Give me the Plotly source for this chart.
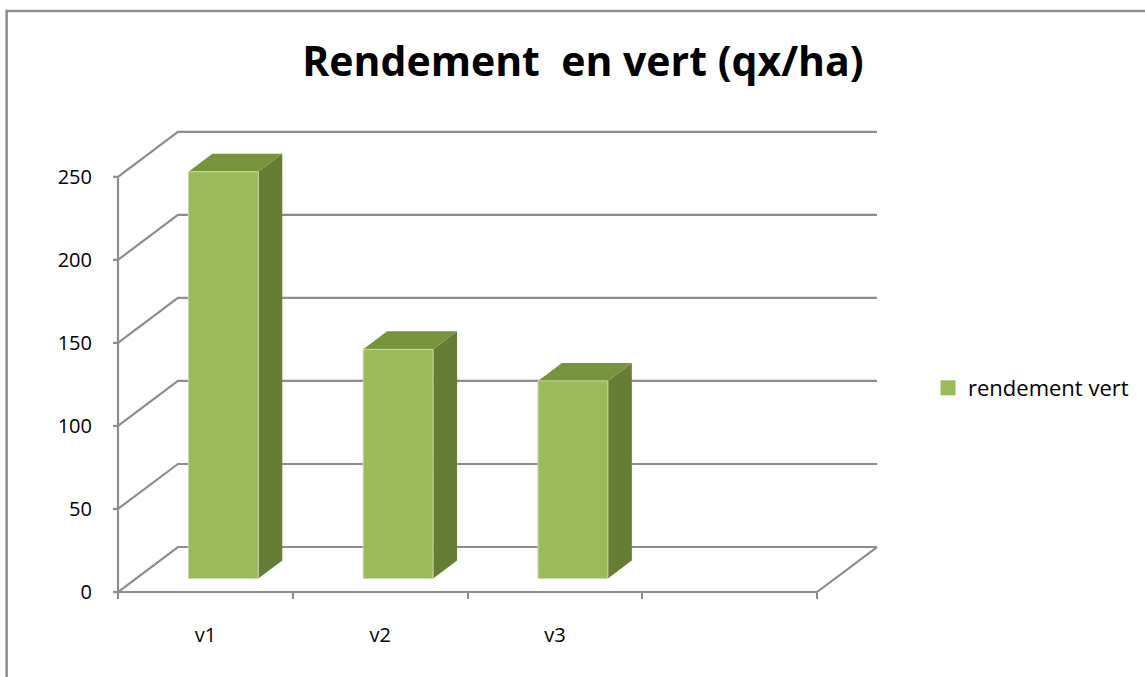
import plotly.graph_objects as go

# ---- data ----
categories = ["v1", "v2", "v3"]
values = [245, 138, 119]
series_name = "rendement vert"
y_ticks = [0, 50, 100, 150, 200, 250]
n_slots = 4  # category slots on the floor (4th empty)

# ---- geometry / style ----
W, H = 1145, 677
X0 = -5 / 175.0
X1 = 4.4
Y0, Y1 = -3, 280
L, R, B, T = 113, 257, 80, 127
plot_w = W - L - R
plot_h = H - T - B
ky = plot_h / (Y1 - Y0)            # px per value unit
DX = 60 / 175.0                      # depth offset in x units
DY = 45 / ky                         # depth offset in y units
GRID = "#8c8c8c"
FRONT = "#9BBB59"
TOP = "#77933C"
SIDE = "#657D35"
FONT = "Open Sans"

def proj(x, y, z):
    return x + z * DX, y + z * DY

fig = go.Figure()

def poly(pts, color, line_color=None, width=0):
    xs = [p[0] for p in pts] + [pts[0][0]]
    ys = [p[1] for p in pts] + [pts[0][1]]
    fig.add_trace(go.Scatter(x=xs, y=ys, mode="lines", fill="toself",
                             fillcolor=color,
                             line=dict(color=line_color or color, width=width),
                             hoverinfo="skip", showlegend=False))

def lines(xs, ys, color=GRID, width=2.2):
    fig.add_trace(go.Scatter(x=xs, y=ys, mode="lines",
                             line=dict(color=color, width=width),
                             hoverinfo="skip", showlegend=False))

# walls: gridlines (left wall diagonal + back wall horizontal)
gx, gy = [], []
for v in y_ticks:
    a = proj(0, v, 0)
    b = proj(0, v, 1)
    c = proj(n_slots, v, 1)
    gx += [a[0], b[0], c[0], None]
    gy += [a[1], b[1], c[1], None]
lines(gx, gy)
# floor right edge, front edge, front vertical axis
fr = proj(n_slots, 0, 0)
br = proj(n_slots, 0, 1)
lines([0, fr[0], br[0]], [0, fr[1], br[1]])
lines([0, 0], [0, y_ticks[-1]])
# y tick marks
tx, ty = [], []
for v in y_ticks:
    tx += [-6 / 175.0, 0, None]
    ty += [v, v, None]
lines(tx, ty)

# bars
w0, w1 = 0.3, 0.7
z0, z1 = 0.3, 0.7
for i, v in enumerate(values):
    xa, xb = i + w0, i + w1
    # side face
    poly([proj(xb, 0, z0), proj(xb, 0, z1), proj(xb, v, z1), proj(xb, v, z0)], SIDE)
    # top face
    poly([proj(xa, v, z0), proj(xb, v, z0), proj(xb, v, z1), proj(xa, v, z1)], TOP)
    # front face
    poly([proj(xa, 0, z0), proj(xb, 0, z0), proj(xb, v, z0), proj(xa, v, z0)], FRONT,
         line_color="#c9dab0", width=1)

# legend entry
fig.add_trace(go.Scatter(x=[None], y=[None], mode="markers", name=series_name,
                         marker=dict(symbol="square", size=15, color=FRONT)))

x_pos = (0 - X0) / (X1 - X0)
y_pos = (0 - Y0) / (Y1 - Y0)
leg_x = (928 - L) / plot_w

fig.update_layout(
    width=W, height=H,
    margin=dict(l=L, r=R, t=T, b=B),
    paper_bgcolor="white", plot_bgcolor="white",
    font=dict(family=FONT, size=20, color="#000000"),
    title=dict(text="<b>Rendement\u00a0 en vert (qx/ha)</b>",
               x=583 / W, xref="container", xanchor="center",
               y=1 - 62 / H, yref="container", yanchor="middle",
               font=dict(family=FONT, size=41, color="#000000")),
    xaxis=dict(range=[X0, X1], showgrid=False, zeroline=False, showline=False,
               tickvals=[i + 0.5 for i in range(len(categories))],
               ticktext=categories, ticks="", anchor="free", position=y_pos,
               ticklabelstandoff=29,
               minor=dict(ticks="outside", tick0=0, dtick=1, ticklen=6,
                          tickcolor=GRID, tickwidth=2, showgrid=False),
               tickfont=dict(family=FONT, size=20)),
    yaxis=dict(range=[Y0, Y1], showgrid=False, zeroline=False, showline=False,
               tickvals=y_ticks, ticks="", anchor="free", position=x_pos,
               ticklabelstandoff=26, tickfont=dict(family=FONT, size=20)),
    legend=dict(x=leg_x, xanchor="left", y=(Y1 - (388 - T) / ky - Y0) / (Y1 - Y0),
                yanchor="middle", font=dict(family=FONT, size=22),
                bgcolor="rgba(0,0,0,0)", itemsizing="trace", itemwidth=30),
    shapes=[dict(type="rect", xref="paper", yref="paper",
                 x0=(6.5 - L) / plot_w, x1=(W + 5 - L) / plot_w,
                 y0=-(B + 5) / plot_h, y1=1 + (T - 11) / plot_h,
                 line=dict(color="#8c8c8c", width=2.5), layer="below")],
)

fig.write_html("out.html", config={"displayModeBar": False},
               post_script="document.body.style.margin='0';document.body.style.overflow='hidden';")
